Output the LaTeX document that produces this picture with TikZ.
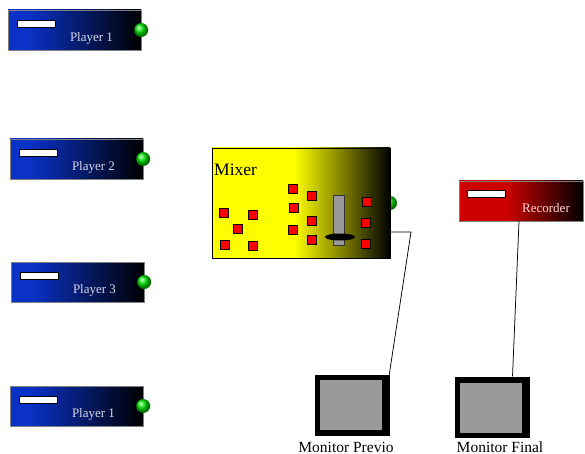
\documentclass[tikz,border=0pt]{standalone}
\usepackage{fontspec}
\setmainfont{Liberation Serif}
\usetikzlibrary{calc}
\definecolor{playerblue}{RGB}{10,50,200}
\definecolor{recred}{RGB}{205,0,0}
\definecolor{screengray}{RGB}{153,153,153}
\definecolor{labelgray}{RGB}{215,215,235}
\pgfdeclarehorizontalshading{mixershade}{100bp}{color(0bp)=(yellow); color(48bp)=(yellow); color(75bp)=(black); color(100bp)=(black)}
\pgfdeclarehorizontalshading{recshade}{100bp}{color(0bp)=(recred); color(44bp)=(recred); color(75bp)=(black); color(100bp)=(black)}
\pgfdeclarehorizontalshading{playershade}{100bp}{color(0bp)=(playerblue); color(32bp)=(playerblue); color(75bp)=(black); color(100bp)=(black)}
\begin{document}
\begin{tikzpicture}[x=1pt,y=-1pt]
        \tikzstyle{player}=[rectangle,draw=black!50,thin,shading=playershade,minimum width=133pt,minimum height=40pt,inner sep=0pt]
        \tikzstyle{slot}=[rectangle,draw=black,fill=white,minimum width=38pt,minimum height=7pt,inner sep=0pt,anchor=north west]
        \tikzstyle{tag}=[text=labelgray,font=\fontsize{13}{14}\selectfont,inner sep=0pt]
        \tikzstyle{port}=[circle,ball color=green!90!black,minimum size=14pt,inner sep=0pt]
        \tikzstyle{knob}=[rectangle,draw=black,fill=red,minimum size=9pt,inner sep=0pt]
        \tikzstyle{monitor}=[rectangle,fill=black,minimum width=75pt,minimum height=61pt,inner sep=0pt]
        \tikzstyle{screen}=[rectangle,fill=screengray,minimum width=62pt,minimum height=50pt,inner sep=0pt]
        \tikzstyle{caption}=[font=\fontsize{15.5}{17}\selectfont,inner sep=0pt]
        \tikzstyle{wire}=[draw,line width=0.75pt]
        \useasboundingbox (0,0) rectangle (585,454);
       % players
       \begin{scope}
         \node [player] (p1) at (74.5,30) {};
         \node [player] (p2) at (76.5,159) {};
         \node [player] (p3) at (77.5,282) {};
         \node [player] (p4) at (76.5,406) {};
         \foreach \p/\t in {p1/Player 1,p2/Player 2,p3/Player 3,p4/Player 1} {
           \node [slot] at ($(\p.north west)+(9,10)$) {};
           \node [tag] (\p-tag) at ($(\p.center)+(17,8)$) {\t};
           \node [port] (\p-port) at (\p.east) {};
         }
        \end{scope}
       % mixer
       \begin{scope}
         \node [port] (mixport) at (390,203) {};
         \node [rectangle,draw=black,shading=mixershade,minimum width=178pt,minimum height=110pt,inner sep=0pt] (mixer) at (301,203) {};
         \node [anchor=base west,inner sep=0pt,font=\fontsize{17.5}{19}\selectfont] (mixtag) at (214,176) {Mixer};
         \foreach \x/\y in {224/213,253/215,238/229,225/245,253/246,293/189,312/196,294/208,312/221,293/230,312/240,367/202,366/223,366/244}
           \node [knob] at (\x,\y) {};
         \node [rectangle,draw=black!80,fill=screengray,minimum width=11pt,minimum height=50pt,inner sep=0pt] (fader) at (338.5,220) {};
         \fill (340,237) ellipse (15pt and 3.5pt);
         \coordinate (mixout) at (mixer.east |- 0,232);
         \coordinate (mixbend) at (411,232);
        \end{scope}
       % recorder
       \begin{scope}
         \node [rectangle,draw=black!50,thin,shading=recshade,minimum width=124pt,minimum height=40pt,inner sep=0pt] (rec) at (521,201) {};
         \node [slot] at ($(rec.north west)+(8,9)$) {};
         \node [tag,text=white!85!red] (rectag) at (546,208) {Recorder};
        \end{scope}
       % monitors
       \begin{scope}
         \node [monitor] (prev) at (352.5,405.5) {};
         \node [screen] (prevscreen) at (351,405) {};
         \node [caption,anchor=base] (prevtag) at (346,452) {Monitor Previo};
         \node [monitor] (final) at (492.5,407) {};
         \node [screen] (finalscreen) at (490.5,407.5) {};
         \node [caption,anchor=base] (finaltag) at (500,452) {Monitor Final};
        \end{scope}
         \path[wire] (mixout) -- (mixbend) -- ($(prev.north east)+(-1,0)$);
         \path[wire] ($(rec.south)+(-2,0)$) -- ($(final.north)+(20,0)$);
      \end{tikzpicture}
\end{document}
